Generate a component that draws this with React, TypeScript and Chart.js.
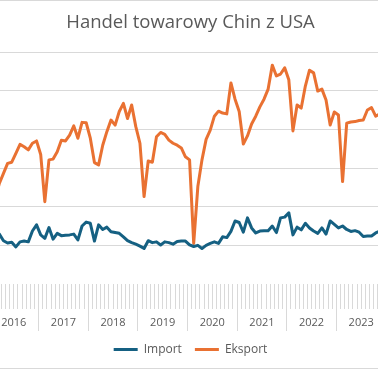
import { useEffect, useRef } from 'react';
import { Chart, registerables } from 'chart.js';

Chart.register(...registerables);

const titleText = 'Handel towarowy Chin z USA';
const years = ['2016', '2017', '2018', '2019', '2020', '2021', '2022', '2023'];
const seriesNames = ['Import', 'Eksport'];

// monthly values, Jan 2016 - Dec 2023
const importValues = [
  12.5, 11.0, 12.9, 11.2, 10.6, 10.8, 9.6, 10.9, 11.1, 10.9, 13.7, 15.3,
  12.7, 11.8, 14.6, 11.6, 13.1, 12.5, 12.6, 12.7, 12.9, 11.4, 15.0, 16.0,
  15.7, 11.1, 15.3, 14.1, 14.7, 13.5, 13.3, 13.1, 12.2, 11.2, 10.7, 10.3,
  9.8, 9.2, 11.2, 10.7, 10.9, 10.1, 10.9, 10.7, 10.3, 11.0, 11.1, 11.1,
  10.1, 9.7, 10.0, 9.2, 10.0, 10.5, 10.9, 10.5, 12.2, 12.0, 13.6, 16.3,
  15.9, 13.4, 17.1, 14.5, 13.2, 13.7, 13.8, 13.8, 15.0, 13.3, 17.1, 17.3,
  18.4, 12.7, 14.7, 14.0, 15.7, 14.5, 13.7, 13.1, 14.5, 12.9, 16.3, 15.4,
  14.5, 15.0, 14.1, 13.6, 13.8, 13.4, 12.3, 12.4, 12.4, 13.2, 13.7, 14.0,
];

const exportValues = [
  33.0, 22.0, 26.0, 28.6, 31.2, 31.5, 33.8, 36.1, 35.5, 34.7, 36.4, 37.0,
  33.5, 21.3, 32.1, 32.3, 34.2, 37.2, 37.0, 38.5, 40.9, 37.7, 41.8, 41.7,
  37.7, 31.4, 30.8, 35.9, 39.4, 42.4, 41.1, 44.6, 46.7, 42.8, 46.3, 40.7,
  36.4, 22.6, 31.8, 31.5, 38.1, 39.2, 38.7, 37.2, 36.4, 35.9, 35.2, 32.9,
  32.1, 10.5, 25.2, 32.1, 37.4, 39.8, 43.4, 44.7, 44.2, 44.0, 52.0, 47.8,
  44.6, 36.2, 38.3, 41.4, 43.4, 45.8, 47.8, 50.4, 56.6, 53.8, 54.3, 55.9,
  52.8, 39.6, 46.3, 45.5, 51.2, 55.3, 54.6, 49.9, 50.4, 47.6, 41.1, 44.5,
  43.7, 26.5, 41.6, 41.9, 42.0, 42.3, 42.4, 45.0, 45.6, 43.4, 44.0, 44.5,
];

const FONT = "'Open Sans', sans-serif";
const TEXT = '#595959';
const GRID = '#D9D9D9';

export default function App() {
  const ref = useRef<HTMLCanvasElement>(null);

  useEffect(() => {
    const toPoints = (arr: number[]) => arr.map((v, i) => ({ x: i + 0.5, y: v }));
    const monthsTotal = years.length * 12;
    const chart = new Chart(ref.current as HTMLCanvasElement, {
      type: 'line',
      data: {
        datasets: [
          {
            label: seriesNames[0],
            data: toPoints(importValues),
            borderColor: '#156082',
            backgroundColor: '#156082',
            borderWidth: 3,
            pointRadius: 0,
            tension: 0,
            borderJoinStyle: 'round',
            borderCapStyle: 'butt',
          },
          {
            label: seriesNames[1],
            data: toPoints(exportValues),
            borderColor: '#E97132',
            backgroundColor: '#E97132',
            borderWidth: 3,
            pointRadius: 0,
            tension: 0,
            borderJoinStyle: 'round',
            borderCapStyle: 'butt',
          },
        ],
      },
      options: {
        responsive: false,
        animation: false,
        devicePixelRatio: 1,
        layout: { padding: { left: 0, right: 0, top: 0, bottom: 4.5 } },
        plugins: {
          title: {
            display: true,
            text: titleText,
            color: TEXT,
            font: { family: FONT, size: 18.5, weight: 'normal', lineHeight: 1.2 },
            padding: { top: 11.9, bottom: 17.9 },
          },
          legend: {
            position: 'bottom',
            labels: {
              usePointStyle: true,
              pointStyle: 'line',
              pointStyleWidth: 24,
              color: TEXT,
              font: { family: FONT, size: 12 },
              padding: 13,
            },
          },
          tooltip: { enabled: false },
        },
        scales: {
          x: {
            type: 'linear',
            min: 0,
            max: monthsTotal,
            border: { display: false },
            grid: {
              drawOnChartArea: false,
              drawTicks: true,
              tickLength: 47,
              color: GRID,
              tickColor: GRID,
              tickWidth: 1,
              tickBorderDash: (c: any) =>
                Math.round(c.tick?.value ?? 0) % 12 === 0 ? [] : [25, 100],
            },
            ticks: {
              stepSize: 1,
              autoSkip: false,
              maxRotation: 0,
              minRotation: 0,
              padding: -15,
              color: TEXT,
              font: { family: FONT, size: 11 },
              callback: (v: any) => {
                const n = Math.round(Number(v));
                return n % 12 === 6 ? years[(n - 6) / 12] : '';
              },
            },
            afterFit: (s: any) => {
              s.height = 46.5;
            },
          },
          y: {
            min: 0,
            max: 60,
            border: { display: false },
            ticks: { display: false, stepSize: 10 },
            grid: {
              drawTicks: false,
              color: (c: any) => (c.tick && c.tick.value === 0 ? 'rgba(0,0,0,0)' : GRID),
              lineWidth: 1,
            },
            afterFit: (s: any) => {
              s.width = 0;
            },
          },
          y2: {
            position: 'right',
            min: 0,
            max: 1,
            border: { display: false },
            ticks: { display: false },
            grid: { display: false, drawTicks: false },
            afterFit: (s: any) => {
              s.width = 6;
            },
          },
        },
      },
    } as any);
    return () => chart.destroy();
  }, []);

  return (
    <div
      style={{
        position: 'absolute',
        left: 0,
        top: 0,
        width: 378,
        height: 370,
        overflow: 'hidden',
        background: '#ffffff',
      }}
    >
      <canvas
        ref={ref}
        width={403}
        height={370}
        style={{ position: 'absolute', left: -11, top: 0, width: 403, height: 370 }}
      />
      <div style={{ position: 'absolute', left: 0, top: 0, width: 378, height: 1, background: GRID }} />
      <div style={{ position: 'absolute', left: 0, top: 368, width: 378, height: 1, background: GRID }} />
    </div>
  );
}
